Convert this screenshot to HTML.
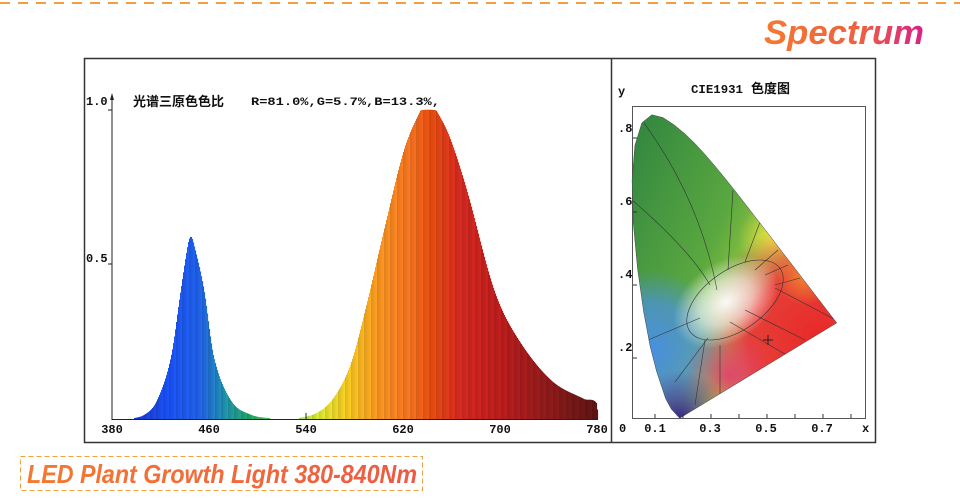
<!DOCTYPE html>
<html><head><meta charset="utf-8"><style>
body{margin:0;background:#fff;width:960px;height:500px;overflow:hidden;position:relative;font-family:"Liberation Sans","Noto Sans CJK SC",sans-serif}
.mono{font-family:"Liberation Mono","Noto Sans CJK SC",monospace;font-weight:bold}
</style></head><body>
<svg width="960" height="500" style="position:absolute;left:0;top:0">
<defs>
<linearGradient id="tg" x1="0" x2="1"><stop offset="0" stop-color="#f47a30"/><stop offset="0.6" stop-color="#ee6040"/><stop offset="1" stop-color="#d8208a"/></linearGradient>
<linearGradient id="bg2" x1="0" x2="1"><stop offset="0" stop-color="#f47a30"/><stop offset="1" stop-color="#ec5a45"/></linearGradient>
<clipPath id="loc"><polygon id="locpoly" points=""/></clipPath>
<radialGradient id="wg" cx="0.5" cy="0.5" r="0.5"><stop offset="0" stop-color="#fff" stop-opacity="0.95"/><stop offset="0.5" stop-color="#fff" stop-opacity="0.6"/><stop offset="1" stop-color="#fff" stop-opacity="0"/></radialGradient>
<linearGradient id="gg" x1="0" y1="0" x2="1" y2="0.6"><stop offset="0" stop-color="#2a8040"/><stop offset="0.45" stop-color="#5aa840"/><stop offset="0.7" stop-color="#b8d840"/><stop offset="1" stop-color="#e0e040"/></linearGradient>
<radialGradient id="rd" gradientUnits="userSpaceOnUse" cx="820" cy="340" r="120"><stop offset="0" stop-color="#e82828"/><stop offset="0.6" stop-color="#e83838" stop-opacity="0.95"/><stop offset="1" stop-color="#e04060" stop-opacity="0"/></radialGradient>
<radialGradient id="yl" gradientUnits="userSpaceOnUse" cx="778" cy="240" r="40"><stop offset="0" stop-color="#f8f040"/><stop offset="1" stop-color="#f0e040" stop-opacity="0"/></radialGradient>
<radialGradient id="or" gradientUnits="userSpaceOnUse" cx="805" cy="275" r="30"><stop offset="0" stop-color="#f08830"/><stop offset="1" stop-color="#f08830" stop-opacity="0"/></radialGradient>
<radialGradient id="bl" gradientUnits="userSpaceOnUse" cx="650" cy="350" r="80"><stop offset="0" stop-color="#4a90e0"/><stop offset="0.6" stop-color="#4a90e0" stop-opacity="0.7"/><stop offset="1" stop-color="#4a90e0" stop-opacity="0"/></radialGradient>
<radialGradient id="pu" gradientUnits="userSpaceOnUse" cx="680" cy="420" r="50"><stop offset="0" stop-color="#302090"/><stop offset="1" stop-color="#5030a0" stop-opacity="0"/></radialGradient>
<radialGradient id="mg" gradientUnits="userSpaceOnUse" cx="730" cy="375" r="45"><stop offset="0" stop-color="#e04070" stop-opacity="0.9"/><stop offset="1" stop-color="#e04070" stop-opacity="0"/></radialGradient>
</defs>
<line x1="0" y1="3" x2="960" y2="3" stroke="#f0a040" stroke-width="2" stroke-dasharray="10,8"/>
<text x="924" y="44" text-anchor="end" font-family="Liberation Sans" font-weight="bold" font-style="italic" font-size="34" fill="url(#tg)" textLength="160" lengthAdjust="spacingAndGlyphs">Spectrum</text>
<rect x="84.5" y="58.5" width="791" height="384" fill="none" stroke="#333" stroke-width="1.5"/>
<line x1="611.5" y1="58" x2="611.5" y2="442" stroke="#333" stroke-width="1.5"/>
<g id="spec"></g>
<line x1="112" y1="96" x2="112" y2="420" stroke="#222"/>
<polygon points="110,100 112,93 114,100" fill="#222"/>
<line x1="112" y1="419.5" x2="598" y2="419.5" stroke="#222"/>
<line x1="108" y1="110" x2="112" y2="110" stroke="#222"/><line x1="108" y1="264" x2="112" y2="264" stroke="#222"/>
<line x1="306" y1="413" x2="306" y2="420" stroke="#222"/>
<g class="mono" font-size="12" fill="#111">
<text x="86" y="105">1.0</text><text x="86" y="262">0.5</text>
<text x="112" y="433" text-anchor="middle">380</text><text x="209" y="433" text-anchor="middle">460</text>
<text x="306" y="433" text-anchor="middle">540</text><text x="403" y="433" text-anchor="middle">620</text>
<text x="500" y="433" text-anchor="middle">700</text><text x="597" y="433" text-anchor="middle">780</text>
<text x="251" y="105" font-size="11" textLength="189" lengthAdjust="spacingAndGlyphs">R=81.0%,G=5.7%,B=13.3%,</text>
<text x="691" y="93" textLength="52" lengthAdjust="spacingAndGlyphs">CIE1931</text>
<text x="618" y="95">y</text>
<text x="618" y="132">.8</text><text x="618" y="205">.6</text><text x="618" y="278">.4</text><text x="618" y="351">.2</text>
<text x="619" y="432">0</text><text x="655" y="432" text-anchor="middle">0.1</text><text x="710" y="432" text-anchor="middle">0.3</text>
<text x="766" y="432" text-anchor="middle">0.5</text><text x="822" y="432" text-anchor="middle">0.7</text><text x="862" y="432">x</text>
</g>
<text x="751" y="93" font-size="13" font-weight="bold" fill="#111" font-family="Noto Sans CJK SC,sans-serif">色度图</text>
<text x="133" y="106" font-size="13" font-weight="bold" fill="#111" font-family="Noto Sans CJK SC,sans-serif">光谱三原色色比</text>
<rect x="632.5" y="106.5" width="233" height="312" fill="none" stroke="#555"/>
<g clip-path="url(#loc)">
<rect x="620" y="100" width="260" height="330" fill="url(#gg)"/>
<rect x="620" y="100" width="260" height="330" fill="url(#yl)"/>
<rect x="620" y="100" width="260" height="330" fill="url(#rd)"/>
<rect x="620" y="100" width="260" height="330" fill="url(#or)"/>
<rect x="620" y="100" width="260" height="330" fill="url(#bl)"/>
<rect x="620" y="100" width="260" height="330" fill="url(#mg)"/>
<rect x="620" y="100" width="260" height="330" fill="url(#pu)"/>
<ellipse cx="726" cy="302" rx="58" ry="40" fill="url(#wg)" transform="rotate(-35 726 302)"/>
<g stroke="#333" stroke-width="0.6" fill="none">
<ellipse cx="735" cy="300" rx="55" ry="30" transform="rotate(-35 735 300)"/>
<path d="M644 123 Q700 200 717 290"/><path d="M632 200 Q690 250 710 285"/><path d="M733 190 L728 270"/>
<path d="M760 222 L745 262"/><path d="M778 250 L755 270"/><path d="M788 265 L765 275"/><path d="M800 278 L775 285"/>
<path d="M775 288 L836 320"/><path d="M745 310 L805 340"/><path d="M730 322 L795 360"/>
<path d="M720 345 L720 400"/><path d="M705 340 L695 405"/><path d="M700 318 L648 340"/><path d="M708 338 L675 382"/>
</g>
</g>
<polygon id="locline" points="" fill="none" stroke="#444" stroke-width="0.5"/>
<g stroke="#222" stroke-width="1"><line x1="763" y1="340" x2="773" y2="340"/><line x1="768" y1="335" x2="768" y2="345"/></g>
<g stroke="#333"><line x1="633" y1="138" x2="637" y2="138"/><line x1="633" y1="212" x2="637" y2="212"/><line x1="633" y1="285" x2="637" y2="285"/><line x1="633" y1="358" x2="637" y2="358"/>
<line x1="655" y1="414" x2="655" y2="418"/><line x1="683" y1="414" x2="683" y2="418"/><line x1="711" y1="414" x2="711" y2="418"/><line x1="739" y1="414" x2="739" y2="418"/><line x1="767" y1="414" x2="767" y2="418"/><line x1="795" y1="414" x2="795" y2="418"/><line x1="823" y1="414" x2="823" y2="418"/><line x1="851" y1="414" x2="851" y2="418"/></g>
<rect x="20.5" y="456.5" width="402" height="34" fill="none" stroke="#f0a040" stroke-dasharray="5,3"/>
<text x="27" y="483" font-family="Liberation Sans" font-weight="bold" font-style="italic" font-size="26" fill="url(#bg2)" textLength="390" lengthAdjust="spacingAndGlyphs">LED Plant Growth Light 380-840Nm</text>
</svg>
<script>
function interp(P,x){var n=P.length;if(x<=P[0][0]||x>=P[n-1][0])return 0;for(var i=1;i<n;i++){if(x<=P[i][0]){var p0=P[Math.max(0,i-2)],p1=P[i-1],p2=P[i],p3=P[Math.min(n-1,i+1)];var h=p2[0]-p1[0],t=(x-p1[0])/h;var m1=(p2[1]-p0[1])/(p2[0]-p0[0])*h,m2=(p3[1]-p1[1])/(p3[0]-p1[0])*h;var t2=t*t,t3=t2*t;return Math.max(0,(2*t3-3*t2+1)*p1[1]+(t3-2*t2+t)*m1+(-2*t3+3*t2)*p2[1]+(t3-t2)*m2);}}return 0;}
var blue=[[130,0],[145,0.015],[157,0.06],[171,0.2],[181,0.42],[188,0.565],[191,0.59],[194,0.565],[204,0.42],[214,0.2],[231,0.06],[250,0.015],[270,0.003],[300,0]];
var red=[[295,0],[317,0.02],[334,0.07],[351,0.18],[367,0.375],[384,0.61],[404,0.87],[420,0.995],[423,1],[434,1],[437,0.995],[450,0.91],[467,0.74],[494,0.42],[517,0.265],[551,0.126],[584,0.065],[597,0.05],[598,0]];
function hex(c){return [parseInt(c.substr(1,2),16),parseInt(c.substr(3,2),16),parseInt(c.substr(5,2),16)];}
var cs=[[137,"#1a3ad0"],[170,"#1a50f0"],[200,"#2060e0"],[225,"#1f90a8"],[250,"#20a060"],[290,"#90e060"],[320,"#d8e030"],[350,"#f0c020"],[380,"#f39020"],[410,"#f07020"],[432,"#e04a10"],[460,"#d02820"],[500,"#b81c1c"],[550,"#8a1a1a"],[598,"#5a1414"]];
function col(x){for(var i=1;i<cs.length;i++){if(x<=cs[i][0]){var a=hex(cs[i-1][1]),b=hex(cs[i][1]),t=(x-cs[i-1][0])/(cs[i][0]-cs[i-1][0]);var v=0.92+0.16*((x*7919)%13)/13;return "rgb("+a.map(function(q,k){return Math.min(255,Math.round((q+(b[k]-q)*t)*v));}).join(",")+")";}}return cs[cs.length-1][1];}
var s="";for(var x=113;x<598;x++){var f=interp(blue,x+0.5)+interp(red,x+0.5);if(f>0.003){var h=f*309;s+='<rect x="'+x+'" y="'+(419-h)+'" width="1.1" height="'+h+'" fill="'+col(x)+'"/>';}}
document.getElementById("spec").innerHTML=s;
var L=[[0.1741,0.005],[0.1440,0.0297],[0.1241,0.0578],[0.0913,0.1327],[0.0687,0.2007],[0.0454,0.2950],[0.0235,0.4127],[0.0082,0.5384],[0.0039,0.6548],[0.0139,0.7502],[0.0389,0.8120],[0.0743,0.8338],[0.1142,0.8262],[0.1547,0.8059],[0.1929,0.7816],[0.2296,0.7543],[0.2658,0.7243],[0.3016,0.6923],[0.3373,0.6589],[0.3731,0.6245],[0.4087,0.5896],[0.4441,0.5547],[0.4788,0.5202],[0.5125,0.4866],[0.5448,0.4544],[0.5752,0.4242],[0.6029,0.3965],[0.6270,0.3725],[0.6482,0.3514],[0.6658,0.3340],[0.7347,0.2653]];
var p=L.map(function(a){return (631+a[0]*280).toFixed(1)+","+(420-a[1]*366).toFixed(1);}).join(" ");
document.getElementById("locpoly").setAttribute("points",p);document.getElementById("locline").setAttribute("points",p);
</script>
</body></html>
